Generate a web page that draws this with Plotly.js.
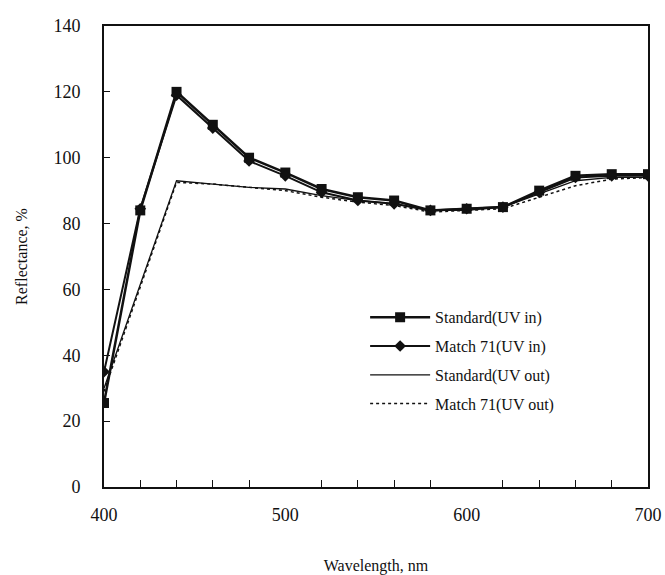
<!DOCTYPE html>
<html>
<head>
<meta charset="utf-8">
<script src="https://cdn.plot.ly/plotly-3.0.1.min.js"></script>
<style>html,body{margin:0;padding:0;background:#fff;}#chart{width:665px;height:575px;}</style>
</head>
<body>
<div id="chart"></div>
<script>
const wavelength = [400, 420, 440, 460, 480, 500, 520, 540, 560, 580, 600, 620, 640, 660, 680, 700];
const standardUVin = [25.5, 84, 120, 110, 100, 95.5, 90.5, 88, 87, 84, 84.5, 85, 90, 94.5, 95, 95];
const match71UVin = [35, 84.5, 119, 109, 99, 94.5, 89.5, 87, 86, 84, 84.5, 85, 89.5, 94, 94.5, 94.5];
const standardUVout = [30, 61.5, 93, 92, 91, 90.5, 88.5, 87, 86, 84, 84, 85, 89, 93, 94, 94];
const match71UVout = [29, 60.5, 92.5, 92, 91, 90, 88, 86.5, 85.5, 83.5, 84, 84.5, 88, 91.5, 93.5, 94];
const seriesNames = ['Standard(UV in)', 'Match 71(UV in)', 'Standard(UV out)', 'Match 71(UV out)'];

const traces = [
  {x: wavelength, y: standardUVin, name: seriesNames[0], legendgroup: 'a', mode: 'lines+markers',
   line: {color: '#111', width: 2.5}, marker: {symbol: 'square', size: 10, color: '#111'}},
  {x: wavelength, y: match71UVin, name: seriesNames[1], legendgroup: 'b', mode: 'lines+markers',
   line: {color: '#111', width: 2}, marker: {symbol: 'diamond', size: 9, color: '#111'}},
  {x: wavelength, y: standardUVout, name: seriesNames[2], legendgroup: 'c', mode: 'lines',
   line: {color: '#111', width: 1.3}},
  {x: wavelength, y: match71UVout, name: seriesNames[3], legendgroup: 'd', mode: 'lines',
   line: {color: '#111', width: 1.5, dash: 'dot'}}
];

const font = {family: '"Liberation Serif", "DejaVu Serif", serif', color: '#111'};

const layout = {
  width: 665, height: 575,
  margin: {l: 104, r: 17, t: 26, b: 88},
  paper_bgcolor: '#fff', plot_bgcolor: '#fff',
  font: Object.assign({size: 16}, font),
  showlegend: true,
  legend: {x: 0.48, y: 0.405, xanchor: 'left', yanchor: 'top', bgcolor: 'rgba(0,0,0,0)',
           font: Object.assign({size: 16}, font), tracegroupgap: 5, itemwidth: 60},
  xaxis: {range: [400, 700], dtick: 100, tick0: 400, ticks: 'inside', ticklen: 0,
          showgrid: false, zeroline: false, showline: true, linecolor: '#111', linewidth: 2,
          mirror: true, tickfont: Object.assign({size: 18}, font), ticklabelstandoff: 10,
          minor: {dtick: 20, ticks: 'inside', ticklen: 7, tickcolor: '#111', showgrid: false},
          title: {text: 'Wavelength, nm', font: Object.assign({size: 16}, font), standoff: 36}},
  yaxis: {range: [0, 140], dtick: 20, ticks: 'inside', ticklen: 6, tickcolor: '#111',
          showgrid: false, zeroline: false, showline: true, linecolor: '#111', linewidth: 2,
          mirror: true, tickfont: Object.assign({size: 18}, font), ticklabelstandoff: 18,
          title: {text: 'Reflectance, %', font: Object.assign({size: 16}, font), standoff: 22}}
};

Plotly.newPlot('chart', traces, layout, {displayModeBar: false, staticPlot: true});
</script>
</body>
</html>
